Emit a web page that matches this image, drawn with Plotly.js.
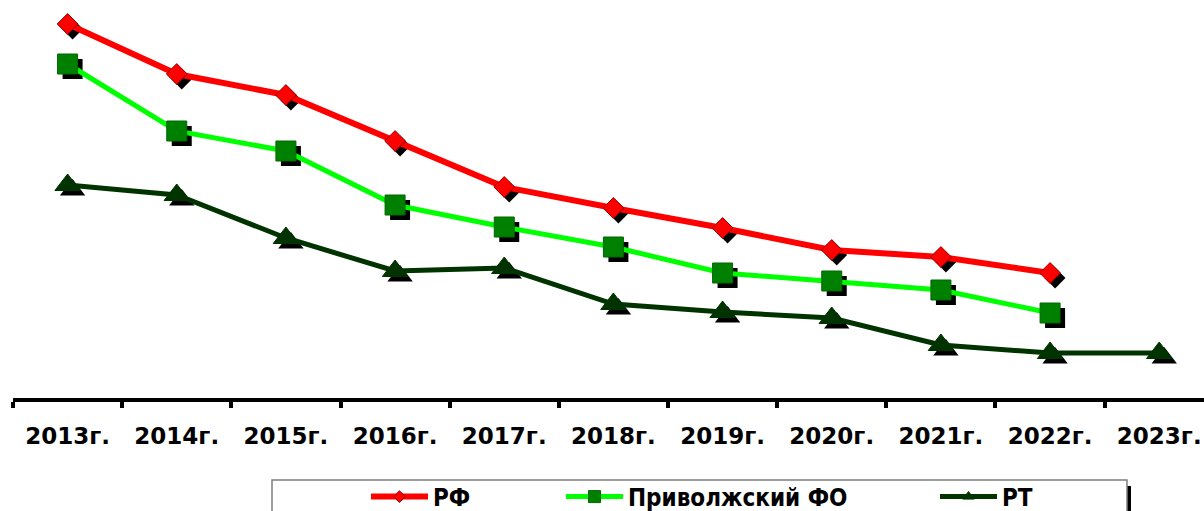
<!DOCTYPE html>
<html><head><meta charset="utf-8">
<script src="https://cdn.plot.ly/plotly-3.0.1.min.js"></script>
<style>html,body{margin:0;padding:0;overflow:hidden;background:#fff}#chart{width:1204px;height:511px}</style>
</head><body><div id="chart"></div>
<script>
const years = ['2013г.','2014г.','2015г.','2016г.','2017г.','2018г.','2019г.','2020г.','2021г.','2022г.','2023г.'];
const seriesNames = ['РФ','Приволжский ФО','РТ'];
const rf  = [37.6, 32.6, 30.5, 25.9, 21.3, 19.2, 17.2, 15.0, 14.3, 12.7];
const pfo = [33.6, 26.9, 24.9, 19.5, 17.3, 15.3, 12.7, 11.9, 11.0, 8.7];
const rt  = [21.5, 20.5, 16.2, 12.9, 13.2, 9.6, 8.8, 8.2, 5.5, 4.7, 4.7];

const W = 1204, H = 511;
const M = {l: 13, r: 0, t: 0, b: 113};
const plotW = W - M.l - M.r, plotH = H - M.t - M.b;
const xRange = [-0.5, 10.41], yRange = [0.2, 40];
const pxX = plotW / (xRange[1] - xRange[0]);
const pxY = plotH / (yRange[1] - yRange[0]);
const shadow = 5;
const px2x = p => (p - M.l) / plotW;
const px2y = p => (M.t + plotH - p) / plotH;

const styles = [
  {line: '#FF0000', width: 6, symbol: 'diamond', size: 16, legSize: 9, fill: '#FF0000', edge: '#990000'},
  {line: '#00FF00', width: 5, symbol: 'square', size: 20, legSize: 12, fill: '#008000', edge: '#006600'},
  {line: '#003300', width: 5, symbol: 'triangle-up', size: 22, legSize: 10, fill: '#003300', edge: '#003300'}
];
const data = [rf, pfo, rt];
const legendNames = ['legend', 'legend2', 'legend3'];
const legendX = [366, 561, 935];

const traces = [];
data.forEach((vals, i) => {
  const s = styles[i];
  traces.push({
    x: years.slice(0, vals.length), y: vals, xaxis: 'x', yaxis: 'y',
    mode: 'markers', showlegend: false, hoverinfo: 'skip',
    marker: {symbol: s.symbol, size: s.size, color: '#000000', line: {width: 0}}
  });
});
data.forEach((vals, i) => {
  const s = styles[i];
  traces.push({
    x: years.slice(0, vals.length), y: vals, xaxis: 'x2', yaxis: 'y2',
    name: seriesNames[i], showlegend: false,
    mode: 'lines+markers',
    line: {color: s.line, width: s.width},
    marker: {symbol: s.symbol, size: s.size, color: s.fill, line: {color: s.edge, width: 1}}
  });
});
// legend entries (no data points of their own)
data.forEach((vals, i) => {
  const s = styles[i];
  traces.push({
    x: [null], y: [null], xaxis: 'x2', yaxis: 'y2',
    name: seriesNames[i], legend: legendNames[i], showlegend: true,
    mode: 'lines+markers',
    line: {color: s.line, width: s.width},
    marker: {symbol: s.symbol, size: s.legSize, color: s.fill, line: {color: s.edge, width: 1}}
  });
});

const legendFont = {family: 'DejaVu Sans Condensed, DejaVu Sans', size: 24, weight: 'bold', color: '#000000'};
const mkLegend = i => ({
  xref: 'container', yref: 'container',
  x: legendX[i] / W, xanchor: 'left', y: 1 - 497 / H, yanchor: 'middle',
  orientation: 'h', bgcolor: 'rgba(0,0,0,0)', borderwidth: 0,
  font: legendFont, itemwidth: 57
});

const layout = {
  width: W, height: H, margin: M,
  paper_bgcolor: '#FFFFFF', plot_bgcolor: '#FFFFFF',
  xaxis: {type: 'category', categoryorder: 'array', categoryarray: years,
          range: [xRange[0] - shadow / pxX, xRange[1] - shadow / pxX], visible: false},
  yaxis: {range: [yRange[0] + shadow / pxY, yRange[1] + shadow / pxY], visible: false},
  xaxis2: {type: 'category', categoryorder: 'array', categoryarray: years,
           overlaying: 'x', anchor: 'y2', side: 'bottom', range: xRange,
           showline: true, linecolor: '#000000', linewidth: 4,
           ticks: 'outside', tickson: 'boundaries', ticklen: 6, tickwidth: 4, tickcolor: '#000000',
           ticklabelstandoff: 14, showgrid: false, zeroline: false, automargin: false,
           tickfont: {family: 'DejaVu Sans', size: 23, weight: 'bold', color: '#000000'}},
  yaxis2: {overlaying: 'y', range: yRange, visible: false},
  legend: mkLegend(0), legend2: mkLegend(1), legend3: mkLegend(2),
  shapes: [
    {type: 'rect', xref: 'paper', yref: 'paper', x0: px2x(1126), x1: px2x(1131), y0: px2y(486), y1: px2y(530),
     fillcolor: '#000000', line: {width: 0}},
    {type: 'rect', xref: 'paper', yref: 'paper', x0: px2x(272), x1: px2x(1127), y0: px2y(480), y1: px2y(530),
     fillcolor: '#FFFFFF', line: {color: '#7F7F7F', width: 1.5}}
  ],
  showlegend: true
};

Plotly.newPlot('chart', traces, layout, {displayModeBar: false, staticPlot: true});
</script></body></html>
